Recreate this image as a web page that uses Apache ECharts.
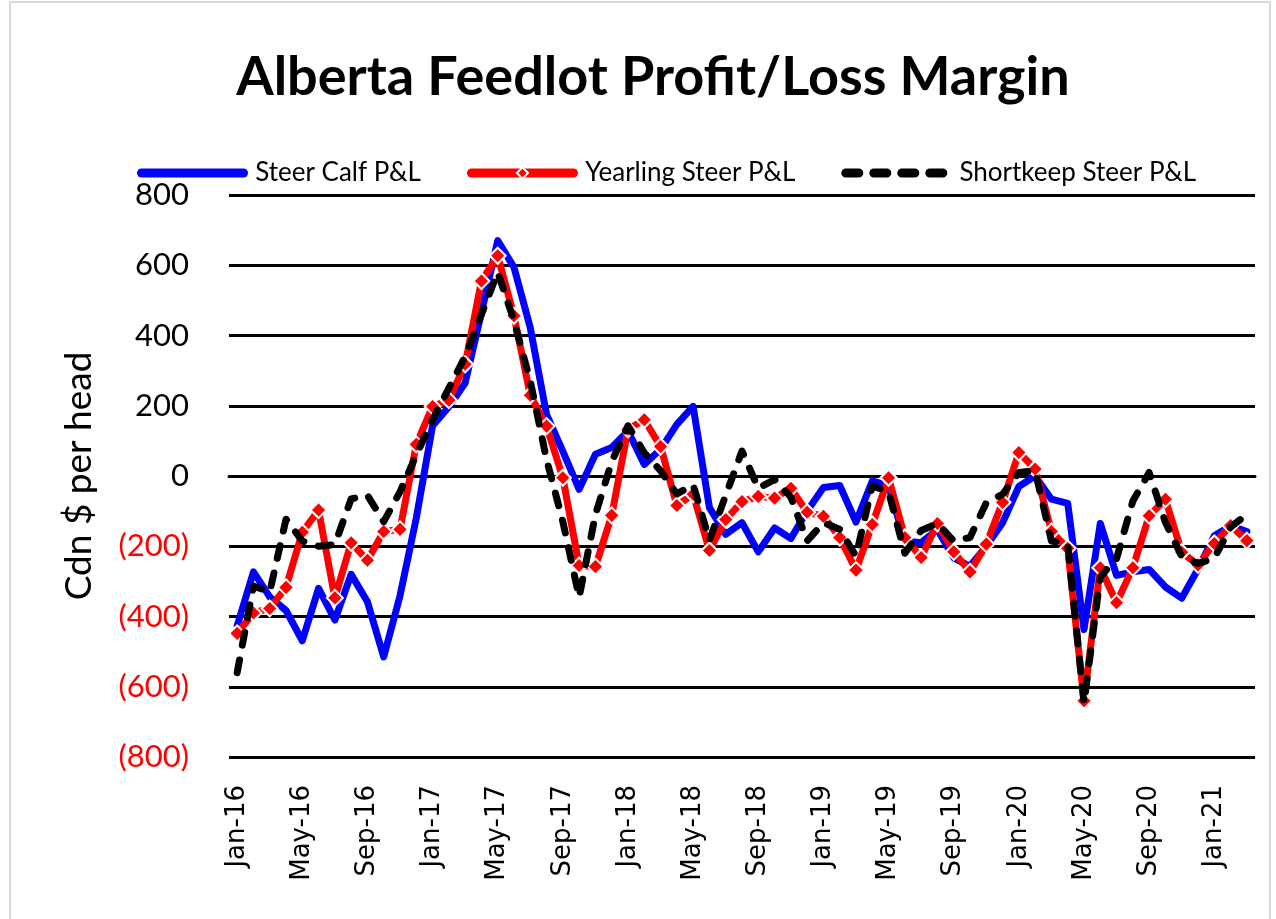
<!DOCTYPE html>
<html>
<head>
<meta charset="utf-8">
<script src="https://cdn.jsdelivr.net/npm/echarts@6/dist/echarts.min.js"></script>
<style>
  html, body { margin: 0; padding: 0; background: #fff; }
  #main { width: 1276px; height: 919px; }
</style>
</head>
<body>
<div id="main"></div>
<script>
// months Jan-16 .. Mar-21
const monthNames = ['Jan', 'Feb', 'Mar', 'Apr', 'May', 'Jun', 'Jul', 'Aug', 'Sep', 'Oct', 'Nov', 'Dec'];
const months = [];
for (let y = 16; y <= 21; y++) {
    for (let m = 0; m < 12; m++) {
        if (y === 21 && m > 2) break;
        months.push(monthNames[m] + '-' + y);
    }
}

const steerCalf = [
    -427, -273, -344, -383, -469, -320, -410, -280, -358, -515,
    -341, -120, 143, 197, 265, 465, 670, 594, 422, 175,
    70, -38, 62, 81, 128, 33, 76, 147, 198, -90,
    -166, -133, -216, -148, -178, -100, -33, -27, -131, -14,
    -28, -185, -190, -152, -233, -257, -200, -133, -30, 0,
    -66, -78, -437, -135, -283, -273, -266, -316, -348, -265,
    -170, -142, -158
];
const yearling = [
    -448, -390, -377, -317, -160, -97, -347, -190, -240, -158,
    -152, 90, 198, 216, 318, 555, 627, 456, 230, 142,
    -5, -255, -258, -112, 133, 160, 84, -84, -52, -212,
    -124, -73, -58, -63, -35, -103, -115, -175, -268, -138,
    -5, -175, -232, -135, -216, -273, -194, -75, 67, 20,
    -158, -206, -640, -261, -361, -261, -113, -66, -217, -253,
    -192, -141, -184
];
const shortkeep = [
    -560, -313, -330, -123, -185, -200, -195, -65, -55, -130,
    -45, 60, 160, 250, 340, 460, 580, 442, 270, 47,
    -130, -345, -110, 41, 143, 66, 15, -51, -25, -183,
    -55, 71, -35, -10, -60, -185, -133, -152, -228, -28,
    -45, -220, -155, -135, -185, -175, -76, -52, 10, 15,
    -185, -195, -646, -287, -235, -71, 10, -132, -229, -249,
    -234, -145, -110
];

let chart = echarts.init(document.getElementById('main'));

const hidden = { color: 'rgba(0,0,0,0)', borderWidth: 0, opacity: 0 };

let option = {
    animation: false,
    backgroundColor: '#fff',
    title: {
        text: 'Alberta Feedlot Profit/Loss Margin',
        left: 648,
        textAlign: 'center',
        top: 46,
        textStyle: {
            fontFamily: 'Lato',
            fontWeight: 'bold',
            fontSize: 54,
            color: '#000'
        }
    },
    graphic: [{
        type: 'rect',
        shape: { x: 10, y: 2, width: 1260, height: 930 },
        style: { fill: 'none', stroke: '#d9d9d9', lineWidth: 2 },
        silent: true
    }],
    legend: {
        top: 155,
        left: 132,
        itemWidth: 102,
        itemHeight: 14,
        itemGap: 46,
        formatter: function (name) { return ' ' + name; },
        textStyle: {
            fontFamily: 'Lato',
            fontSize: 26,
            color: '#000'
        },
        lineStyle: { width: 9 },
        data: [
            { name: 'Steer Calf P&L', itemStyle: hidden },
            { name: 'Yearling Steer P&L' },
            { name: 'Shortkeep Steer P&L', itemStyle: hidden }
        ]
    },
    grid: {
        left: 229,
        right: 21,
        top: 195,
        bottom: 162
    },
    xAxis: {
        type: 'category',
        data: months,
        boundaryGap: true,
        axisLine: { show: true, lineStyle: { color: '#000', width: 3 } },
        axisTick: { show: false },
        axisLabel: {
            interval: 3,
            rotate: 90,
            margin: 28,
            fontFamily: 'DejaVu Sans',
            fontSize: 26,
            color: '#000'
        }
    },
    yAxis: {
        type: 'value',
        min: -800,
        max: 800,
        interval: 200,
        name: 'Cdn $ per head',
        nameLocation: 'middle',
        nameGap: 131,
        nameTextStyle: {
            fontFamily: 'Lato',
            fontSize: 37,
            color: '#000'
        },
        axisLine: { show: false },
        axisTick: { show: false },
        splitLine: { lineStyle: { color: '#000', width: 3 } },
        axisLabel: {
            margin: 40,
            fontFamily: 'Lato',
            fontSize: 31,
            formatter: function (v) {
                return v < 0 ? '{neg|(' + Math.abs(v) + ')}' : String(v);
            },
            color: '#000',
            rich: {
                neg: { color: '#ff0000', fontFamily: 'Lato', fontSize: 31 }
            }
        }
    },
    series: [{
        name: 'Steer Calf P&L',
        type: 'line',
        data: steerCalf,
        symbol: 'none',
        color: '#0000ff',
        lineStyle: { color: '#0000ff', width: 7, cap: 'round', join: 'round' },
        z: 2
    }, {
        name: 'Yearling Steer P&L',
        type: 'line',
        data: yearling,
        symbol: 'diamond',
        symbolSize: 16,
        showAllSymbol: true,
        color: '#ff0000',
        itemStyle: { color: '#ff0000', borderColor: '#fff', borderWidth: 2 },
        lineStyle: { color: '#ff0000', width: 7, cap: 'round', join: 'round' },
        z: 3
    }, {
        name: 'Shortkeep Steer P&L',
        type: 'line',
        data: shortkeep,
        symbol: 'none',
        color: '#000',
        lineStyle: { color: '#000', width: 7, type: [13, 15], cap: 'round', join: 'round' },
        z: 4
    }]
};

chart.setOption(option);
</script>
</body>
</html>
